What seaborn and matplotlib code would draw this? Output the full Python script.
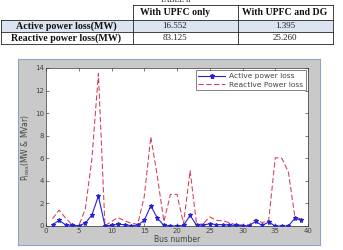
import numpy as np
import pandas as pd
import seaborn as sns
import matplotlib
matplotlib.use("Agg")
import matplotlib.pyplot as plt
from matplotlib.patches import Rectangle
from matplotlib.lines import Line2D

# ---------------- data ----------------
buses = list(range(1, 40))
active_loss = [0.12, 0.50, 0.10, 0.05, 0.02, 0.25, 0.97, 2.65, 0.02, 0.05,
               0.15, 0.12, 0.03, 0.08, 0.50, 1.80, 0.70, 0.05, 0.00, 0.00,
               0.05, 0.95, 0.05, 0.08, 0.20, 0.12, 0.12, 0.08, 0.05, 0.03,
               0.02, 0.40, 0.05, 0.35, 0.00, 0.00, 0.00, 0.68, 0.50]
reactive_loss = [0.65, 1.40, 0.70, 0.10, 0.02, 1.50, 5.90, 13.50, 0.02, 0.40,
                 0.75, 0.45, 0.25, 0.15, 2.60, 7.90, 4.40, 0.40, 2.80, 2.80,
                 0.20, 4.90, 0.10, 0.20, 0.80, 0.50, 0.45, 0.30, 0.10, 0.10,
                 0.10, 0.60, 0.30, 0.50, 6.05, 6.00, 4.80, 0.80, 0.60]
series_names = ["Active power loss", "Reactive Power loss"]

table_title = "TABLE II"
table_columns = ["With UPFC only", "With UPFC and DG"]
table_rows = ["Active power loss(MW)", "Reactive power loss(MW)"]
table_upfc = ["16.552", "83.125"]
table_upfc_dg = ["1.395", "25.260"]

x_ticks = [0, 5, 10, 15, 20, 25, 30, 35, 40]
y_ticks = [0, 2, 4, 6, 8, 10, 12, 14]

# ---------------- figure ----------------
W, H = 343, 250
fig = plt.figure(figsize=(W / 100, H / 100), dpi=100)
fig.patch.set_facecolor("white")

def fx(px):
    return px / W

def fy(py):
    return 1 - py / H

# grey MATLAB-like panel (background axes)
axbg = fig.add_axes([fx(18), fy(245), fx(320) - fx(18), fy(59) - fy(245)])
axbg.set_facecolor("#c9c9c9")
axbg.set_xticks([])
axbg.set_yticks([])
for s in axbg.spines.values():
    s.set_color("#8aa6cc")
    s.set_linewidth(0.8)
axbg.set_zorder(0)

# ---------------- table ----------------
axt = fig.add_axes([0, fy(55), 1, 1 - fy(55)])
axt.set_xlim(0, W)
axt.set_ylim(55, 0)
axt.axis("off")
axt.add_patch(Rectangle((1, 20), 332, 12, facecolor="#dbe4f0", edgecolor="none"))
lc = "#222222"
lw = 0.6
axt.plot([133, 333], [5, 5], color=lc, lw=lw)
for yy in (20, 32, 44):
    axt.plot([1, 333], [yy, yy], color=lc, lw=lw)
axt.plot([1, 1], [20, 44], color=lc, lw=lw)
for xx in (133, 238, 333):
    axt.plot([xx, xx], [5, 44], color=lc, lw=lw)
serif = ["Liberation Serif", "DejaVu Serif"]
axt.text(175, 0.3, table_title, ha="center", va="center", fontsize=5.5,
         family=serif, color="#222")
col_x = [175, 285]
for cx, name in zip(col_x, table_columns):
    axt.text(cx, 12.8, name, ha="center", va="center", fontsize=7,
             fontweight="bold", family=serif, color="#111")
row_y = [26.3, 38.2]
for ry, lab, v1, v2 in zip(row_y, table_rows, table_upfc, table_upfc_dg):
    axt.text(66, ry, lab, ha="center", va="center", fontsize=7.2,
             fontweight="bold", family=serif, color="#111")
    axt.text(col_x[0], ry, v1, ha="center", va="center", fontsize=6.5,
             family=serif, color="#222")
    axt.text(col_x[1], ry, v2, ha="center", va="center", fontsize=6.5,
             family=serif, color="#222")

# ---------------- chart ----------------
ax = fig.add_axes([fx(46), fy(226), fx(308) - fx(46), fy(68) - fy(226)])
ax.set_zorder(2)
ax.set_facecolor("white")

df = pd.DataFrame({"bus": buses, "active": active_loss, "reactive": reactive_loss})
blue = "#2424d4"
red = "#d63a55"
sns.lineplot(data=df, x="bus", y="reactive", ax=ax, color=red, lw=0.75, zorder=2)
ax.lines[-1].set_dashes([5, 2.5])
sns.lineplot(data=df, x="bus", y="active", ax=ax, color=blue, lw=0.8,
             marker="*", markersize=3.6, markeredgecolor=blue,
             markerfacecolor=blue, zorder=3)

ax.set_xlim(0, 40)
ax.set_ylim(0, 14)
ax.set_xticks(x_ticks)
ax.set_yticks(y_ticks)
ax.tick_params(direction="in", length=2.5, width=0.5, labelsize=5,
               colors="#444444", top=True, right=True, pad=1.5)
for s in ax.spines.values():
    s.set_linewidth(0.5)
    s.set_color("#333333")
ax.set_xlabel("Bus number", fontsize=5.5, color="#444444", labelpad=1)
ax.set_ylabel(r"P$_{\mathrm{loss}}$(MW & MVar)", fontsize=5.5, color="#444444",
              labelpad=2)

handles = [Line2D([], [], color=blue, lw=0.8, marker="*", markersize=3.6),
           Line2D([], [], color=red, lw=0.75, dashes=[5, 2.5])]
leg = ax.legend(handles, series_names, loc="upper right", fontsize=5.4,
                frameon=True, fancybox=False, borderaxespad=0.3,
                handlelength=3.6, borderpad=0.35, labelspacing=0.3,
                handletextpad=0.5)
leg.get_frame().set_edgecolor("#222222")
leg.get_frame().set_linewidth(0.5)
for t in leg.get_texts():
    t.set_color("#444444")

fig.savefig("out.png", dpi=100)
